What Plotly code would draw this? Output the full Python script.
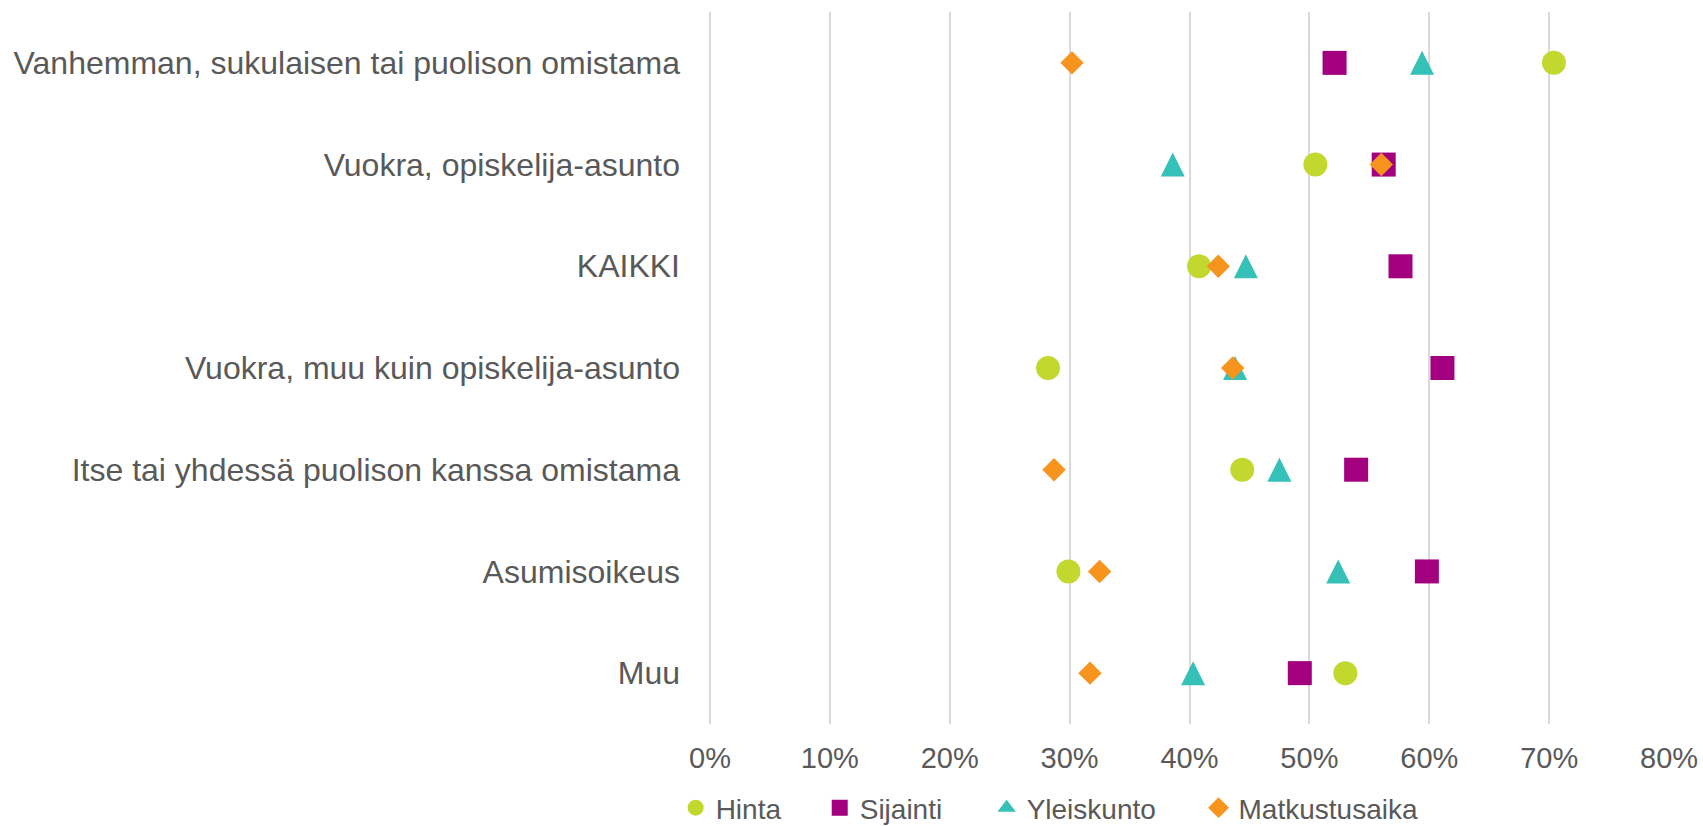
import plotly.graph_objects as go

categories = [
    "Vanhemman, sukulaisen tai puolison omistama",
    "Vuokra, opiskelija-asunto",
    "KAIKKI",
    "Vuokra, muu kuin opiskelija-asunto",
    "Itse tai yhdessä puolison kanssa omistama",
    "Asumisoikeus",
    "Muu",
]

hinta = [0.704, 0.505, 0.408, 0.282, 0.444, 0.299, 0.530]
sijainti = [0.521, 0.562, 0.576, 0.611, 0.539, 0.598, 0.492]
yleiskunto = [0.594, 0.386, 0.447, 0.438, 0.475, 0.524, 0.403]
matkustusaika = [0.302, 0.560, 0.424, 0.436, 0.287, 0.325, 0.317]

TXT = "#595959"
GRID = "#D9D9D9"

fig = go.Figure()

fig.add_trace(go.Scatter(x=hinta, y=categories, mode="markers", name="Hinta",
                         legend="legend",
                         marker=dict(symbol="circle", size=24, color="#C2D82E", line_width=0)))
fig.add_trace(go.Scatter(x=sijainti, y=categories, mode="markers", name="Sijainti",
                         legend="legend2",
                         marker=dict(symbol="square", size=24, color="#A3007F", line_width=0)))
# tall triangle centred on the point (arrow turned upside down)
fig.add_trace(go.Scatter(x=yleiskunto, y=categories, mode="markers", name="Yleiskunto",
                         showlegend=False,
                         marker=dict(symbol="arrow-down", size=24, angle=180, standoff=12,
                                     color="#35C1B8", line_width=0)))
# legend entry only
fig.add_trace(go.Scatter(x=[None], y=[None], mode="markers", name="Yleiskunto",
                         legend="legend3",
                         marker=dict(symbol="triangle-up", size=22, color="#35C1B8", line_width=0)))
fig.add_trace(go.Scatter(x=matkustusaika, y=categories, mode="markers", name="Matkustusaika",
                         legend="legend4",
                         marker=dict(symbol="diamond", size=18, color="#F7941E", line_width=0)))

leg = dict(orientation="h", xanchor="left", y=-0.118, yanchor="middle",
           font=dict(size=28, color=TXT), bgcolor="rgba(0,0,0,0)", borderwidth=0)

fig.update_layout(
    width=1703, height=826,
    paper_bgcolor="white", plot_bgcolor="white",
    margin=dict(l=709, r=33, t=12, b=102, autoexpand=False),
    font=dict(family="Liberation Sans, Arial, sans-serif", size=31, color=TXT),
    showlegend=True,
    legend=dict(x=-0.0347, **leg),
    legend2=dict(x=0.1152, **leg),
    legend3=dict(x=0.2889, **leg),
    legend4=dict(x=0.5094, **leg),
    xaxis=dict(range=[-0.0008, 0.8008], tickvals=[0, 0.1, 0.2, 0.3, 0.4, 0.5, 0.6, 0.7, 0.8],
               tickformat=".0%", showgrid=True, gridcolor=GRID, gridwidth=2,
               zeroline=True, zerolinecolor=GRID, zerolinewidth=2, showline=False,
               ticks="", ticklabelstandoff=14, tickfont=dict(size=29, color=TXT),
               automargin=False, fixedrange=True),
    yaxis=dict(categoryorder="array", categoryarray=categories, range=[6.5, -0.5],
               showgrid=False, zeroline=False, showline=False, ticks="",
               ticklabelstandoff=28, tickfont=dict(size=32, color=TXT),
               automargin=False, fixedrange=True),
)

# drop the default 8px page margin so the figure sits at the window's corner
fig.write_html("out.html", config={"displayModeBar": False},
               post_script="document.body.style.margin='0px';")
